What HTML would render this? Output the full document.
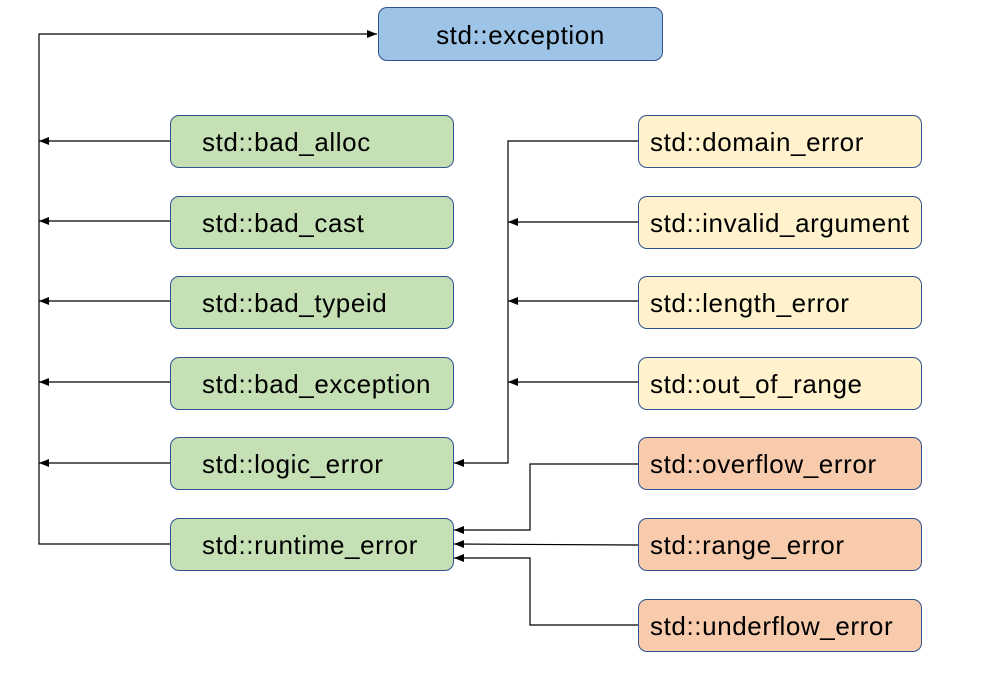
<!DOCTYPE html>
<html><head><style>
body{margin:0;background:#fff;width:1006px;height:678px;overflow:hidden;position:relative;font-family:"Liberation Sans",sans-serif}
.b{position:absolute;box-sizing:border-box;border:1px solid #2f528f;border-radius:9px;font-size:26px;letter-spacing:0.6px;line-height:53px;white-space:nowrap;color:#000}
.g{left:170px;width:284px;height:53px;background:#c5e0b4;padding-left:31px}
.y{left:638px;width:284px;height:53px;background:#fff2cc;padding-left:11px}
.o{left:638px;width:284px;height:53px;background:#f8cbad;padding-left:11px}
svg{position:absolute;left:0;top:0}
</style></head><body>
<svg width="1006" height="678">
<defs><marker id="a" markerWidth="10" markerHeight="8" refX="10" refY="4" orient="auto" markerUnits="userSpaceOnUse"><path d="M0,0L10,4L0,8z" fill="#000"/></marker></defs>
<g stroke="#000" stroke-width="1.2" fill="none">
<polyline points="170,544 39,544 39,34 377,34" marker-end="url(#a)"/>
<line x1="170" y1="141" x2="39" y2="141" marker-end="url(#a)"/>
<line x1="170" y1="221" x2="39" y2="221" marker-end="url(#a)"/>
<line x1="170" y1="301" x2="39" y2="301" marker-end="url(#a)"/>
<line x1="170" y1="382" x2="39" y2="382" marker-end="url(#a)"/>
<line x1="170" y1="463" x2="39" y2="463" marker-end="url(#a)"/>
<polyline points="638,141 508,141 508,463 454,463" marker-end="url(#a)"/>
<line x1="638" y1="222" x2="508" y2="222" marker-end="url(#a)"/>
<line x1="638" y1="301" x2="508" y2="301" marker-end="url(#a)"/>
<line x1="638" y1="382" x2="508" y2="382" marker-end="url(#a)"/>
<polyline points="638,464 530,464 530,530 454,530" marker-end="url(#a)"/>
<line x1="638" y1="545" x2="454" y2="544" marker-end="url(#a)"/>
<polyline points="638,625 530,625 530,558 454,558" marker-end="url(#a)"/>
</g></svg>
<div class="b" style="left:378px;top:7px;width:285px;height:54px;background:#9dc3e6;text-align:center;line-height:54px">std::exception</div>
<div class="b g" style="top:115px">std::bad_alloc</div>
<div class="b g" style="top:196px">std::bad_cast</div>
<div class="b g" style="top:276px">std::bad_typeid</div>
<div class="b g" style="top:357px">std::bad_exception</div>
<div class="b g" style="top:437px">std::logic_error</div>
<div class="b g" style="top:518px">std::runtime_error</div>
<div class="b y" style="top:115px">std::domain_error</div>
<div class="b y" style="top:196px">std::invalid_argument</div>
<div class="b y" style="top:276px">std::length_error</div>
<div class="b y" style="top:357px">std::out_of_range</div>
<div class="b o" style="top:437px">std::overflow_error</div>
<div class="b o" style="top:518px">std::range_error</div>
<div class="b o" style="top:599px">std::underflow_error</div>
</body></html>
